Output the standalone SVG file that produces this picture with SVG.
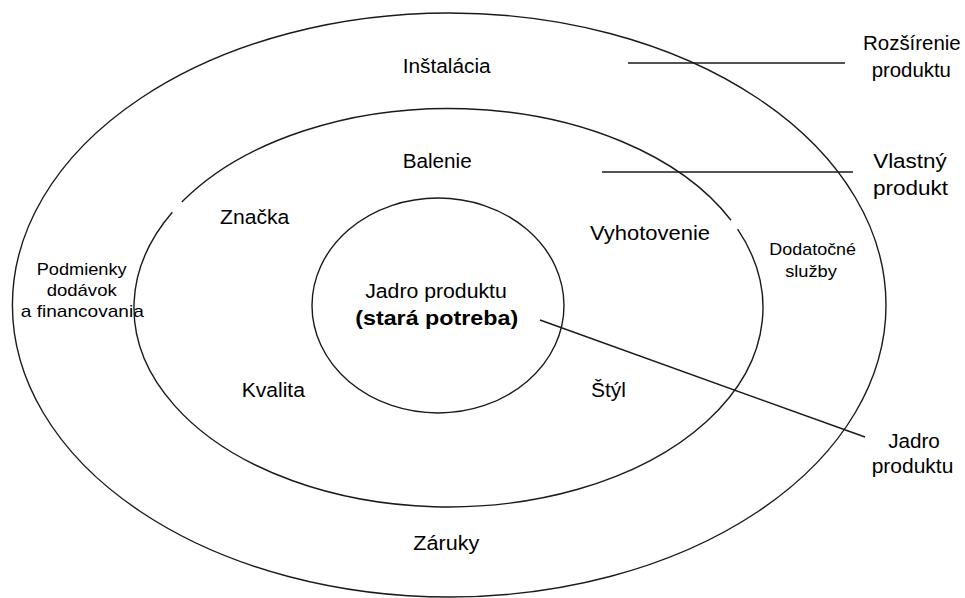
<svg xmlns="http://www.w3.org/2000/svg" width="965" height="598" viewBox="0 0 965 598">
  <style>
    .ring { fill: none; stroke: #1a1a1a; stroke-width: 1.4; }
    .lead { stroke: #1a1a1a; stroke-width: 1.4; }
    text { font-family: "Liberation Sans", Arial, sans-serif; fill: #000; text-anchor: middle; }
    .lbl { font-size: 20.5px; }
    .sm { font-size: 17px; }
    .bold { font-size: 20.5px; font-weight: bold; }
  </style>
  <rect width="965" height="598" fill="#fff"/>

  <!-- outer ring: augmented product -->
  <g id="ring-augmented">
    <ellipse class="ring" cx="449.2" cy="305" rx="436.8" ry="292"/>
    <text class="lbl" x="446.7" y="73.3" textLength="88" lengthAdjust="spacingAndGlyphs">Inštalácia</text>
    <text class="lbl" x="446.3" y="550" textLength="66" lengthAdjust="spacingAndGlyphs">Záruky</text>
    <text class="sm" x="81.7" y="275" textLength="90" lengthAdjust="spacingAndGlyphs">Podmienky</text>
    <text class="sm" x="81.7" y="295.5" textLength="70" lengthAdjust="spacingAndGlyphs">dodávok</text>
    <text class="sm" x="82.3" y="316.7" textLength="123" lengthAdjust="spacingAndGlyphs">a financovania</text>
    <text class="sm" x="812.7" y="255" textLength="86.7" lengthAdjust="spacingAndGlyphs">Dodatočné</text>
    <text class="sm" x="811" y="276.7" textLength="51.7" lengthAdjust="spacingAndGlyphs">služby</text>
  </g>

  <!-- middle ring: actual product (two arcs with small gaps) -->
  <g id="ring-actual">
    <path class="ring" d="M181.8 202.1 A314.5 199.3 0 0 1 731.0 220.2"/>
    <path class="ring" d="M737.6 229.2 A314.5 199.3 0 1 1 172.3 212.3"/>
    <text class="lbl" x="437.2" y="168.3" textLength="69" lengthAdjust="spacingAndGlyphs">Balenie</text>
    <text class="lbl" x="254.7" y="224.3" textLength="69.3" lengthAdjust="spacingAndGlyphs">Značka</text>
    <text class="lbl" x="650" y="240" textLength="120" lengthAdjust="spacingAndGlyphs">Vyhotovenie</text>
    <text class="lbl" x="273.3" y="396.7" textLength="63.3" lengthAdjust="spacingAndGlyphs">Kvalita</text>
    <text class="lbl" x="608.5" y="396.7" textLength="35" lengthAdjust="spacingAndGlyphs">Štýl</text>
  </g>

  <!-- inner ring: core product -->
  <g id="ring-core">
    <ellipse class="ring" cx="438" cy="305.5" rx="126" ry="107.5"/>
    <text class="lbl" x="436" y="298.3" textLength="141.7" lengthAdjust="spacingAndGlyphs">Jadro produktu</text>
    <text class="bold" x="436.7" y="325" textLength="163" lengthAdjust="spacingAndGlyphs">(stará potreba)</text>
  </g>

  <!-- leader lines -->
  <g id="connectors">
    <line class="lead" x1="628" y1="63" x2="845" y2="63"/>
    <line class="lead" x1="602" y1="172" x2="853" y2="172"/>
    <line class="lead" x1="540" y1="320" x2="865" y2="437"/>
  </g>

  <!-- callout labels -->
  <g id="label-augmented">
    <text class="lbl" x="911.9" y="50" textLength="97.7" lengthAdjust="spacingAndGlyphs">Rozšírenie</text>
    <text class="lbl" x="911.3" y="76.7" textLength="79.3" lengthAdjust="spacingAndGlyphs">produktu</text>
  </g>
  <g id="label-actual">
    <text class="lbl" x="910" y="168.3" textLength="73.7" lengthAdjust="spacingAndGlyphs">Vlastný</text>
    <text class="lbl" x="910.5" y="195" textLength="75" lengthAdjust="spacingAndGlyphs">produkt</text>
  </g>
  <g id="label-core">
    <text class="lbl" x="914" y="448.3" textLength="51.7" lengthAdjust="spacingAndGlyphs">Jadro</text>
    <text class="lbl" x="912.5" y="473.3" textLength="81.7" lengthAdjust="spacingAndGlyphs">produktu</text>
  </g>
</svg>
